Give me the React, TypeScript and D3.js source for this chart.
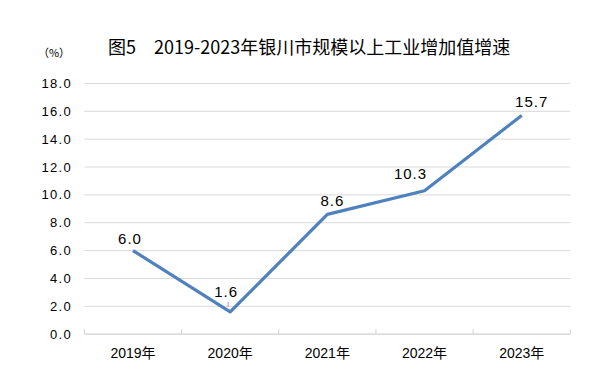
import React from "react";
import * as d3 from "d3";

const categories = ["2019年", "2020年", "2021年", "2022年", "2023年"];
const values = [6.0, 1.6, 8.6, 10.3, 15.7];
const yTicks = [0, 2, 4, 6, 8, 10, 12, 14, 16, 18];
const titleText = "图5　2019-2023年银川市规模以上工业增加值增速";
const unitText = "（%）";

// label placement offsets (style)
const labelDx = [-3, -4, 5, -14, 10];
const labelDy = [-12, -20, -14, -17, -14];

const W = 605;
const H = 383;
const left = 84.4;
const right = 570.3;
const top = 83.4;
const bottom = 334.2;

export default function App() {
  const x = d3.scaleBand<string>().domain(categories).range([left, right]).padding(0);
  const y = d3.scaleLinear().domain([0, 18]).range([bottom, top]);
  const cx = (c: string) => (x(c) as number) + x.bandwidth() / 2;
  const line = d3
    .line<number>()
    .x((_, i) => cx(categories[i]))
    .y((d) => y(d));
  const tickXs = [...categories.map((c) => x(c) as number), right];
  const numFont = "'Liberation Sans', Arial, 'Noto Sans CJK SC', sans-serif";

  return (
    <svg
      width={W}
      height={H}
      viewBox={`0 0 ${W} ${H}`}
      style={{ position: "absolute", left: 0, top: 0, background: "#fff" }}
    >
      <rect x={0} y={0} width={W} height={H} fill="#fff" />
      <text
        x={108}
        y={46}
        fontFamily="'Noto Sans CJK SC', sans-serif"
        fontSize={18}
        fontWeight={400}
        fill="#000"
        dominantBaseline="central"
      >
        {titleText}
      </text>
      <text
        x={54}
        y={52}
        fontFamily="'Noto Sans CJK SC', sans-serif"
        fontSize={11}
        fill="#000"
        textAnchor="middle"
        dominantBaseline="central"
      >
        {unitText}
      </text>
      {yTicks.slice(1).map((t) => (
        <line key={"g" + t} x1={left} x2={right} y1={y(t)} y2={y(t)} stroke="#d9d9d9" strokeWidth={1} />
      ))}
      <line x1={left} x2={right} y1={bottom} y2={bottom} stroke="#d0d0d0" strokeWidth={1.2} />
      {tickXs.map((tx, i) => (
        <line key={"t" + i} x1={tx} x2={tx} y1={bottom} y2={bottom - 5} stroke="#d0d0d0" strokeWidth={1} />
      ))}
      {yTicks.map((t) => (
        <text
          key={"y" + t}
          x={72}
          y={y(t)}
          fontFamily={numFont}
          fontSize={13}
          letterSpacing={1.3}
          fill="#000"
          textAnchor="end"
          dominantBaseline="central"
        >
          {t.toFixed(1)}
        </text>
      ))}
      {categories.map((c) => (
        <text
          key={c}
          x={cx(c)}
          y={353}
          fontFamily={numFont}
          fontSize={14}
          fill="#000"
          textAnchor="middle"
          dominantBaseline="central"
        >
          {c}
        </text>
      ))}
      <line
        x1={cx(categories[1]) - 2}
        x2={cx(categories[1]) - 2}
        y1={y(values[1]) - 10}
        y2={y(values[1]) - 5}
        stroke="#a6a6a6"
        strokeWidth={1}
      />
      <path
        d={line(values) || ""}
        fill="none"
        stroke="#4f81bd"
        strokeWidth={3.2}
        strokeLinejoin="round"
        strokeLinecap="butt"
      />
      {values.map((v, i) => (
        <text
          key={"l" + i}
          x={cx(categories[i]) + labelDx[i]}
          y={y(v) + labelDy[i]}
          fontFamily={numFont}
          fontSize={15}
          letterSpacing={1}
          fill="#000"
          textAnchor="middle"
          dominantBaseline="central"
        >
          {v.toFixed(1)}
        </text>
      ))}
    </svg>
  );
}
